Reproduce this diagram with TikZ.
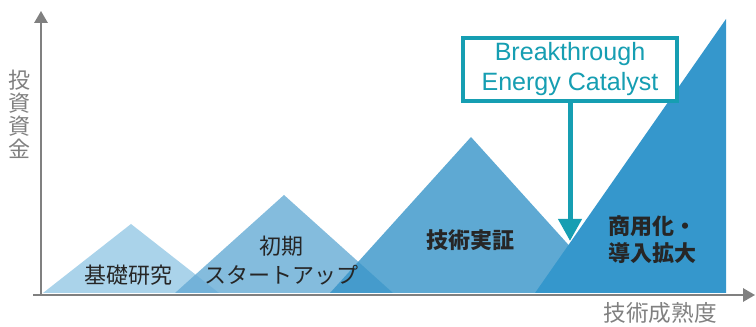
\documentclass[tikz,border=0pt]{standalone}
\usepackage{fontspec}
\newfontfamily\jpfont{Noto Sans CJK JP}
\newfontfamily\enfont{Liberation Sans}
\usetikzlibrary{arrows.meta, positioning}
\definecolor{axisgray}{RGB}{128,128,128}
\definecolor{labeltext}{RGB}{38,38,38}
\definecolor{becteal}{RGB}{22,158,178}
\definecolor{stageA}{RGB}{149,200,229}
\definecolor{stageB}{RGB}{101,171,213}
\definecolor{stageC}{RGB}{54,148,200}
\definecolor{stageD}{RGB}{53,151,204}
\tikzset{
    axis/.style={draw=axisgray, line width=1.5pt, -{Triangle[length=9pt, width=10pt]}},
    stage/.style={fill=#1, fill opacity=0.8, draw=none},
    stagetext/.style={text=labeltext, align=center, inner sep=0pt,
        font=\jpfont\fontsize{16.5}{21.75}\selectfont},
    axistext/.style={text=axisgray, align=center, inner sep=0pt,
        font=\jpfont\fontsize{16.5}{17.25}\selectfont},
    becbox/.style={draw=becteal, line width=3pt, fill=white, text=becteal, align=center,
        minimum width=160pt, minimum height=47pt, inner sep=0pt,
        font=\enfont\fontsize{18.8}{22.5}\selectfont},
    becarrow/.style={draw=becteal, line width=3.75pt, -{Triangle[length=16.5pt, width=17pt]}}
}
\begin{document}
\begin{tikzpicture}[x=0.75pt, y=-0.75pt]
    \useasboundingbox (0,0) rectangle (756,327);
    % axes
    \coordinate (o) at (41,295);
    \coordinate (ytop) at (41,11);
    \coordinate (xstart) at (33,295);
    \coordinate (xend) at (755,295);
    % stages
    \fill[stage=stageA] (43,293) -- (131,224) -- (219,293) -- cycle;
    \fill[stage=stageB] (175,293) -- (284,195) -- (393,293) -- cycle;
    \fill[stage=stageC] (330,293) -- (471,137) -- (612,293) -- cycle;
    \fill[stageD] (535,293) -- (726,19) -- (726,293) -- cycle;
    \draw[axis] (o) -- (ytop);
    \draw[axis] (xstart) -- (xend);
    % labels
    \node[stagetext] (basic) at (128,275) {基礎研究};
    \node[stagetext] (early) at (281,261) {初期\\スタートアップ};
    \node[stagetext, font=\jpfont\bfseries\fontsize{16.5}{21.75}\selectfont] (demo) at (470,240) {技術実証};
    \node[stagetext, font=\jpfont\bfseries\fontsize{16.5}{20.25}\selectfont] (deploy) at (652,240) {商用化・\\導入拡大};
    \node[axistext] (invest) at (19,114) {投\\資\\資\\金};
    \node[axistext, font=\jpfont\fontsize{17}{20}\selectfont] (trl) at (660,313) {技術成熟度};
    % catalyst
    \node[becbox] (bec) at (570,69.5) {Breakthrough\\Energy Catalyst};
    \coordinate (becin) at (570,241);
    \draw[becarrow] (bec.south) -- (becin);
\end{tikzpicture}
\end{document}
